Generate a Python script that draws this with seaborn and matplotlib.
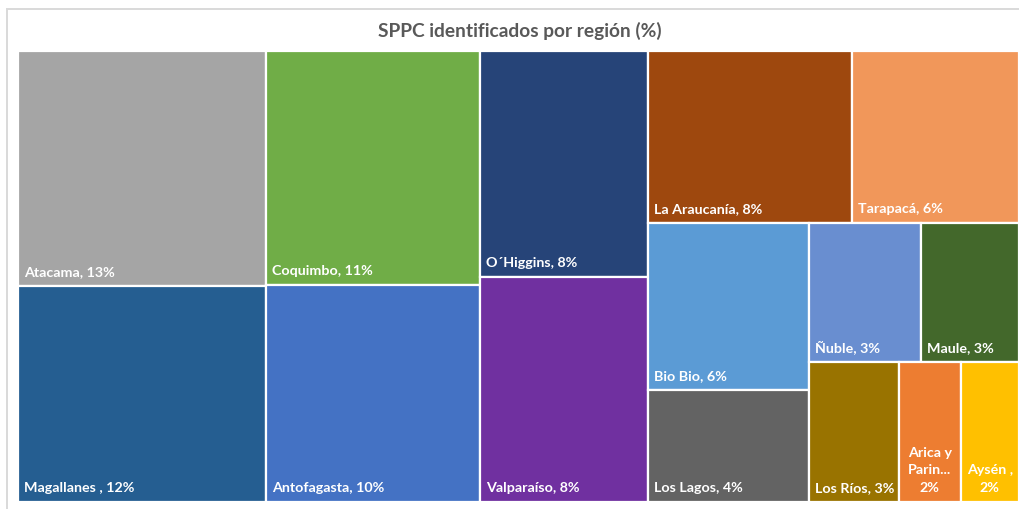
import matplotlib
matplotlib.use("Agg")
import matplotlib.pyplot as plt
from matplotlib.patches import Rectangle
import seaborn as sns
import pandas as pd

# ---- data ----
regions = ["Atacama", "Magallanes ", "Coquimbo", "Antofagasta", "O´Higgins",
           "Valparaíso", "La Araucanía", "Tarapacá", "Bio Bio", "Los Lagos",
           "Ñuble", "Maule", "Los Ríos", "Arica y Parinacota", "Aysén "]
shares = [12.96, 11.86, 11.10, 10.26, 8.41, 8.34, 7.81, 6.36, 5.94, 3.99,
          3.43, 3.02, 2.78, 1.92, 1.81]
colors = ["#A5A5A5", "#255E91", "#70AD47", "#4472C4", "#264478",
          "#7030A0", "#9E480E", "#F1975A", "#5B9BD5", "#636363",
          "#698ED0", "#43682B", "#997300", "#ED7D31", "#FFC000"]
title = "SPPC identificados por región (%)"

df = pd.DataFrame({"region": regions, "share": shares})
palette = sns.color_palette(colors)

sns.set_theme(style="white")
plt.rcParams["font.family"] = ["Lato", "DejaVu Sans"]

W_PX, H_PX = 1019, 509
fig = plt.figure(figsize=(W_PX / 100, H_PX / 100), dpi=100)
ax = fig.add_axes([0, 0, 1, 1])
ax.set_xlim(0, W_PX)
ax.set_ylim(H_PX, 0)
ax.axis("off")

# plot area (pixel space)
X0, Y0, X1, Y1 = 18, 51, 1019, 502


def worst(row, side):
    s = sum(row)
    return max(max(side * side * r / (s * s), s * s / (side * side * r)) for r in row)


def layout_strip(items, x, y, w, h, vertical):
    """Place items in a strip filling (x,y,w,h). vertical -> stacked top-to-bottom."""
    tot = sum(a for _, a in items)
    out = []
    if vertical:
        cy = y
        for i, a in items:
            hh = h * a / tot
            out.append((i, x, cy, w, hh))
            cy += hh
    else:
        cx = x
        for i, a in items:
            ww = w * a / tot
            out.append((i, cx, y, ww, h))
            cx += ww
    return out


def squarify(values, x, y, w, h):
    total = sum(values)
    scale = w * h / total
    items = [(i, v * scale) for i, v in enumerate(values)]
    rects = []
    while items:
        if len(items) <= 3:
            # last group sliced along the longer side
            rects += layout_strip(items, x, y, w, h, vertical=(h > w))
            break
        side = min(w, h)
        row = [items[0]]
        k = 1
        while k < len(items):
            cand = row + [items[k]]
            if worst([a for _, a in cand], side) <= worst([a for _, a in row], side):
                row = cand
                k += 1
            else:
                break
        s = sum(a for _, a in row)
        if w >= h:
            sw = s / h
            rects += layout_strip(row, x, y, sw, h, vertical=True)
            x += sw
            w -= sw
        else:
            sh = s / w
            rects += layout_strip(row, x, y, w, sh, vertical=False)
            y += sh
            h -= sh
        items = items[k:]
    return rects


rects = squarify(df["share"].tolist(), X0, Y0, X1 - X0, Y1 - Y0)

# chart-area border
ax.add_patch(Rectangle((7, 9), 2000, 2000, facecolor="white",
                       edgecolor="#D9D9D9", linewidth=1.4, zorder=0))

fig.canvas.draw()
renderer = fig.canvas.get_renderer()
FS = 10.3
PAD = 6


def text_width(s):
    t = ax.text(0, 0, s, fontsize=FS, fontweight="bold")
    wdt = t.get_window_extent(renderer).width
    t.remove()
    return wdt


for i, x, y, w, h in rects:
    ax.add_patch(Rectangle((x, y), w, h, facecolor=palette[i],
                           edgecolor="white", linewidth=1.6, zorder=2))
    label = f"{df['region'][i]}, {round(df['share'][i])}%"
    if text_width(label) <= w - PAD - 3:
        ax.text(x + PAD, y + h - 10, label, color="white", fontsize=FS,
                fontweight="bold", ha="left", va="baseline", zorder=3)
    else:
        avail = w - 2 * PAD
        words = label.split(" ")
        lines, cur = [], ""
        for wd in words:
            trial = wd if not cur else cur + " " + wd
            if text_width(trial) <= avail:
                cur = trial
                continue
            if cur:
                lines.append(cur)
            if text_width(wd) <= avail:
                cur = wd
            else:
                n = len(wd)
                while n > 1 and text_width(wd[:n] + "...") > avail:
                    n -= 1
                lines.append(wd[:n] + "...")
                cur = ""
        if cur:
            lines.append(cur)
        ax.text(x + w / 2, y + h - 10, "\n".join(lines), color="white",
                fontsize=FS, fontweight="bold", ha="center", va="baseline",
                multialignment="center", linespacing=1.55, zorder=3)

ax.text((X0 + X1) / 2 + 1, 31, title, color="#595959", fontsize=13.8,
        fontweight="bold", ha="center", va="center", zorder=3)

fig.savefig("out.png", dpi=100, facecolor="white")
